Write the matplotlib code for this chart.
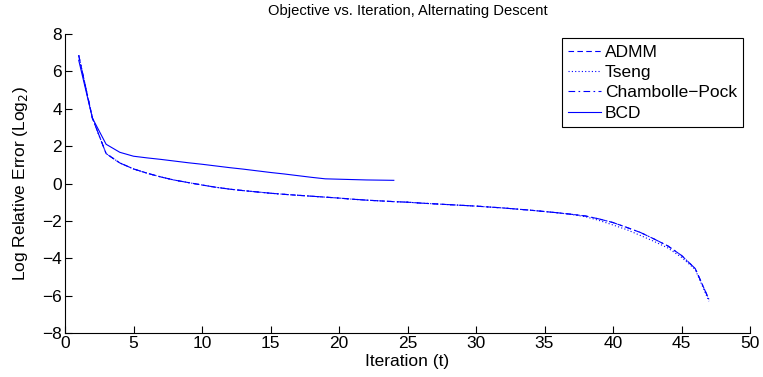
import numpy as np
import matplotlib
matplotlib.use('Agg')
import matplotlib.pyplot as plt

plt.rcParams['font.family'] = ['Liberation Sans', 'DejaVu Sans']

# iteration index and log2 relative error per method
iters = np.arange(1, 48)
admm = [6.86, 3.50, 1.60, 1.10, 0.78, 0.55, 0.35, 0.18, 0.05, -0.08,
        -0.20, -0.30, -0.38, -0.45, -0.52, -0.58, -0.63, -0.68, -0.73, -0.78,
        -0.84, -0.89, -0.93, -0.97, -1.00, -1.05, -1.09, -1.13, -1.17, -1.21,
        -1.26, -1.31, -1.37, -1.43, -1.50, -1.57, -1.65, -1.74, -1.90, -2.09,
        -2.35, -2.62, -2.97, -3.34, -3.85, -4.55, -6.20]
tseng = [6.86, 3.50, 1.60, 1.10, 0.78, 0.55, 0.35, 0.18, 0.05, -0.08,
         -0.20, -0.30, -0.38, -0.45, -0.52, -0.58, -0.63, -0.68, -0.73, -0.78,
         -0.84, -0.89, -0.93, -0.97, -1.00, -1.05, -1.09, -1.13, -1.17, -1.21,
         -1.26, -1.31, -1.37, -1.43, -1.50, -1.57, -1.66, -1.78, -1.98, -2.22,
         -2.47, -2.78, -3.10, -3.45, -3.95, -4.60, -6.30]
cp = [6.86, 3.50, 1.60, 1.10, 0.78, 0.55, 0.35, 0.18, 0.05, -0.08,
      -0.20, -0.30, -0.38, -0.45, -0.52, -0.58, -0.63, -0.68, -0.73, -0.78,
      -0.84, -0.89, -0.93, -0.97, -1.00, -1.05, -1.09, -1.13, -1.17, -1.21,
      -1.26, -1.31, -1.37, -1.43, -1.50, -1.57, -1.65, -1.74, -1.90, -2.09,
      -2.35, -2.62, -2.97, -3.34, -3.85, -4.55, -6.20]
bcd_iters = np.arange(1, 25)
bcd = [6.60, 3.50, 2.10, 1.67, 1.46, 1.37, 1.29, 1.20, 1.11, 1.03,
       0.94, 0.85, 0.77, 0.68, 0.59, 0.51, 0.42, 0.33, 0.25, 0.23,
       0.21, 0.19, 0.18, 0.17]

fig = plt.figure(figsize=(7.63, 3.77), dpi=100)
ax = fig.add_axes([0.0852, 0.1167, 0.8978, 0.7931])

ax.plot(iters, admm, color='blue', ls=(0, (5, 3)), lw=0.8, label='ADMM')
ax.plot(iters, tseng, color='blue', ls=(0, (1, 2)), lw=0.8, label='Tseng')
ax.plot(iters, cp, color='blue', ls=(0, (6, 3, 1.5, 3)), lw=0.8, label='Chambolle\u2212Pock')
ax.plot(bcd_iters, bcd, color='blue', ls='-', lw=0.8, label='BCD')

ax.set_xlim(0, 50)
ax.set_ylim(-8, 8)
ax.set_xticks(np.arange(0, 51, 5))
ax.set_yticks(np.arange(-8, 9, 2))
ax.set_yticklabels([str(v).replace('-', '\u2212') for v in range(-8, 9, 2)])
ax.tick_params(direction='in', length=5, width=0.8, labelsize=12.5, pad=2)
for s in ['top', 'right']:
    ax.spines[s].set_visible(False)
for s in ['left', 'bottom']:
    ax.spines[s].set_linewidth(0.8)

ax.set_title('Objective vs. Iteration, Alternating Descent', fontsize=10.6, pad=14)
ax.set_xlabel('Iteration (t)', fontsize=12.5, labelpad=2)
ax.set_ylabel('Log Relative Error (Log$_2$)', fontsize=12.5, labelpad=9)

leg = ax.legend(loc='upper right', bbox_to_anchor=(0.99, 0.985), fontsize=12.5,
                handlelength=1.9, handletextpad=0.25, labelspacing=0.3,
                borderpad=0.35, borderaxespad=0.0, fancybox=False, framealpha=1)
leg.get_frame().set_edgecolor('black')
leg.get_frame().set_linewidth(0.8)

fig.savefig('out.png', dpi=100)
